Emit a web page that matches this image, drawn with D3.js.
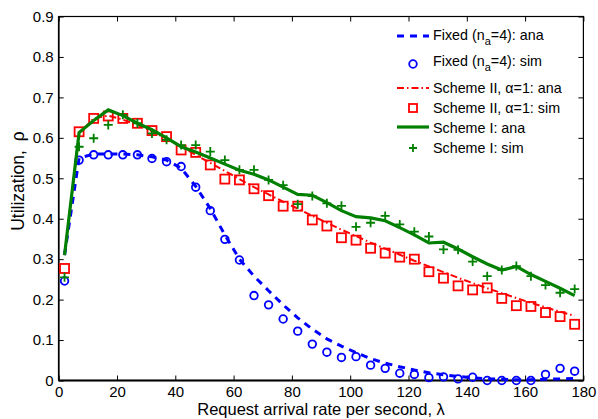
<!DOCTYPE html>
<html>
<head>
<meta charset="utf-8">
<script src="https://cdn.jsdelivr.net/npm/d3@7"></script>
<style>
  body { margin: 0; background: #fff; }
  text { font-family: "Liberation Sans", Arial, sans-serif; }
</style>
</head>
<body>
<div id="chartContainer"></div>
<script>
// request arrival rate (x) for every series
var lambda = [2, 7, 12, 17, 22, 27, 32, 37, 42, 47, 52, 57, 62, 67, 72, 77, 82, 87,
  92, 97, 102, 107, 112, 117, 122, 127, 132, 137, 142, 147, 152, 157, 162, 167, 172, 177];

var fixedAna = [0.31, 0.55, 0.56, 0.56, 0.56, 0.558, 0.553, 0.545, 0.525, 0.48, 0.425, 0.36,
  0.30, 0.258, 0.222, 0.187, 0.155, 0.127, 0.103, 0.085, 0.069, 0.054, 0.043, 0.034,
  0.026, 0.019, 0.014, 0.01, 0.007, 0.004, 0.003, 0.002, 0.002, 0.003, 0.004, 0.005];
var fixedSim = [0.246, 0.545, 0.558, 0.558, 0.558, 0.558, 0.549, 0.541, 0.529, 0.478, 0.42, 0.349,
  0.298, 0.21, 0.187, 0.152, 0.122, 0.09, 0.07, 0.057, 0.059, 0.038, 0.03, 0.018,
  0.015, 0.007, 0.009, 0.004, 0.008, 0.0, 0.0, 0.0, 0.0, 0.015, 0.03, 0.023];

var s2Ana = [0.31, 0.61, 0.648, 0.655, 0.645, 0.632, 0.616, 0.598, 0.578, 0.558, 0.538, 0.518,
  0.498, 0.478, 0.46, 0.442, 0.425, 0.407, 0.39, 0.373, 0.357, 0.341, 0.326, 0.311,
  0.296, 0.282, 0.268, 0.254, 0.241, 0.228, 0.216, 0.204, 0.192, 0.181, 0.17, 0.16];
var s2Sim = [0.277, 0.615, 0.648, 0.654, 0.648, 0.636, 0.618, 0.603, 0.57, 0.564, 0.533, 0.498,
  0.496, 0.474, 0.457, 0.431, 0.431, 0.397, 0.382, 0.353, 0.347, 0.327, 0.315, 0.305,
  0.30, 0.269, 0.253, 0.234, 0.224, 0.229, 0.203, 0.185, 0.183, 0.168, 0.158, 0.139];

var s1Ana = [0.31, 0.613, 0.643, 0.669, 0.655, 0.636, 0.62, 0.6, 0.578, 0.565, 0.55, 0.535,
  0.52, 0.51, 0.496, 0.478, 0.46, 0.458, 0.44, 0.42, 0.405, 0.402, 0.395, 0.378,
  0.36, 0.34, 0.342, 0.325, 0.306, 0.288, 0.273, 0.282, 0.262, 0.245, 0.228, 0.21];
var s1Sim = [0.255, 0.578, 0.599, 0.632, 0.657, 0.636, 0.611, 0.595, 0.582, 0.582, 0.566, 0.545,
  0.521, 0.521, 0.496, 0.483, 0.436, 0.456, 0.438, 0.432, 0.38, 0.39, 0.407, 0.386,
  0.368, 0.356, 0.324, 0.323, 0.294, 0.258, 0.273, 0.283, 0.258, 0.236, 0.217, 0.226];

var xTicks = [0, 20, 40, 60, 80, 100, 120, 140, 160, 180];
var yTicks = [0, 0.1, 0.2, 0.3, 0.4, 0.5, 0.6, 0.7, 0.8, 0.9];

var width = 598, height = 419;
var margin = {top: 16.5, right: 14.6, bottom: 38.5, left: 58.7};
var w = width - margin.left - margin.right;
var h = height - margin.top - margin.bottom;

var svg = d3.select("#chartContainer").append("svg")
  .attr("width", width).attr("height", height);
var g = svg.append("g").attr("transform", "translate(" + margin.left + "," + margin.top + ")");

var x = d3.scaleLinear().domain([0, 180]).range([0, w]);
var y = d3.scaleLinear().domain([0, 0.9]).range([h, 0]);

// axes with inward ticks on all four sides
g.append("g").attr("transform", "translate(0," + h + ")")
  .call(d3.axisBottom(x).tickValues(xTicks).tickSizeInner(-5).tickSizeOuter(0).tickPadding(6).tickFormat(d3.format("d")));
g.append("g").attr("transform", "translate(0,0)")
  .call(d3.axisTop(x).tickValues(xTicks).tickSizeInner(-5).tickSizeOuter(0).tickFormat(""));
g.append("g")
  .call(d3.axisLeft(y).tickValues(yTicks).tickSizeInner(-5).tickSizeOuter(0).tickPadding(5).tickFormat(function (d) { return d === 0 ? "0" : d3.format(".1f")(d); }));
g.append("g").attr("transform", "translate(" + w + ",0)")
  .call(d3.axisRight(y).tickValues(yTicks).tickSizeInner(-5).tickSizeOuter(0).tickFormat(""));

g.selectAll(".domain").remove();
g.selectAll(".tick line").attr("stroke", "#000").attr("stroke-width", 1);
g.selectAll(".tick text").attr("font-size", 15).attr("fill", "#000")
  .style("font-family", "Liberation Sans, Arial, sans-serif");

g.append("rect").attr("width", w).attr("height", h)
  .attr("fill", "none").attr("stroke", "#000").attr("stroke-width", 1.2);
g.append("line").attr("x1", 0).attr("x2", w).attr("y1", h).attr("y2", h)
  .attr("stroke", "#000").attr("stroke-width", 2);
g.append("line").attr("x1", 0).attr("x2", 0).attr("y1", 0).attr("y2", h)
  .attr("stroke", "#000").attr("stroke-width", 1.6);

var plot = g.append("g");

function zip(vals) { return lambda.map(function (d, i) { return [d, vals[i]]; }); }
var line = d3.line().x(function (d) { return x(d[0]); }).y(function (d) { return y(d[1]); });

// simulation markers
plot.selectAll(".c").data(zip(fixedSim)).enter().append("circle")
  .attr("cx", function (d) { return x(d[0]); }).attr("cy", function (d) { return y(d[1]); })
  .attr("r", 3.8).attr("fill", "none").attr("stroke", "#0000ff").attr("stroke-width", 1.8);
plot.selectAll(".s").data(zip(s2Sim)).enter().append("rect")
  .attr("x", function (d) { return x(d[0]) - 4.5; }).attr("y", function (d) { return y(d[1]) - 4.5; })
  .attr("width", 9).attr("height", 9).attr("fill", "none").attr("stroke", "#ff0000").attr("stroke-width", 1.8);

// analytical lines
plot.append("path").datum(zip(s2Ana)).attr("d", line).attr("fill", "none")
  .attr("stroke", "#ff0000").attr("stroke-width", 2).attr("stroke-dasharray", "7,3,1.5,3");
plot.append("path").datum(zip(fixedAna)).attr("d", line).attr("fill", "none")
  .attr("stroke", "#0000ff").attr("stroke-width", 3).attr("stroke-dasharray", "7,6");
plot.append("path").datum(zip(s1Ana)).attr("d", line).attr("fill", "none")
  .attr("stroke", "#008000").attr("stroke-width", 3.2);

var plusPath = "M-4.5,0H4.5M0,-4.5V4.5";
plot.selectAll(".p").data(zip(s1Sim)).enter().append("path")
  .attr("transform", function (d) { return "translate(" + x(d[0]) + "," + y(d[1]) + ")"; })
  .attr("d", plusPath).attr("fill", "none").attr("stroke", "#008000").attr("stroke-width", 1.8);

// legend
var legend = svg.append("g");
var lx0 = 397, lx1 = 429, tx = 433;
function legText(yy, parts) {
  var t = legend.append("text").attr("x", tx).attr("y", yy + 5).attr("font-size", 14.3).attr("fill", "#000");
  parts.forEach(function (p) {
    var s = t.append("tspan").text(p.t);
    if (p.sub) s.attr("dy", 5).attr("font-size", 11);
    if (p.back) s.attr("dy", -5);
  });
}
legend.append("line").attr("x1", lx0).attr("x2", lx1).attr("y1", 36).attr("y2", 36)
  .attr("stroke", "#0000ff").attr("stroke-width", 3).attr("stroke-dasharray", "7,6");
legText(35, [{t: "Fixed (n"}, {t: "a", sub: true}, {t: "=4): ana", back: true}]);
legend.append("circle").attr("cx", 413).attr("cy", 64).attr("r", 3.8)
  .attr("fill", "none").attr("stroke", "#0000ff").attr("stroke-width", 1.8);
legText(61, [{t: "Fixed (n"}, {t: "a", sub: true}, {t: "=4): sim", back: true}]);
legend.append("line").attr("x1", lx0).attr("x2", lx1).attr("y1", 88).attr("y2", 88)
  .attr("stroke", "#ff0000").attr("stroke-width", 2).attr("stroke-dasharray", "7,3,1.5,3");
legText(88, [{t: "Scheme II, \u03b1=1: ana"}]);
legend.append("rect").attr("x", 409).attr("y", 104).attr("width", 8).attr("height", 8)
  .attr("fill", "none").attr("stroke", "#ff0000").attr("stroke-width", 1.8);
legText(108, [{t: "Scheme II, \u03b1=1: sim"}]);
legend.append("line").attr("x1", lx0).attr("x2", lx1).attr("y1", 127).attr("y2", 127)
  .attr("stroke", "#008000").attr("stroke-width", 3.2);
legText(128, [{t: "Scheme I: ana"}]);
legend.append("path").attr("transform", "translate(413,148)").attr("d", "M-4,0H4M0,-4V4")
  .attr("stroke", "#008000").attr("stroke-width", 1.8);
legText(148, [{t: "Scheme I: sim"}]);

// axis titles
svg.append("text").attr("x", margin.left + w / 2).attr("y", 415).attr("text-anchor", "middle")
  .attr("font-size", 16.5).text("Request arrival rate per second, \u03bb");
var yl = svg.append("text").attr("transform", "translate(24,181) rotate(-90)")
  .attr("text-anchor", "middle").attr("font-size", 17.5);
yl.append("tspan").text("Utilization,");
yl.append("tspan").attr("dx", 9).text("\u03c1");
</script>
</body>
</html>
